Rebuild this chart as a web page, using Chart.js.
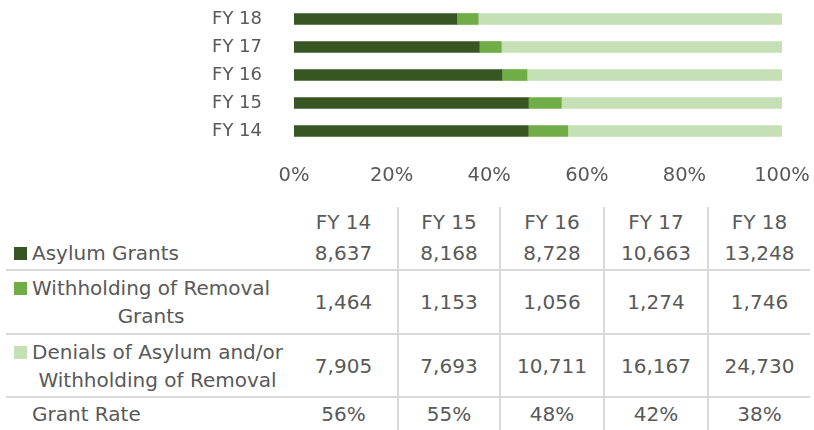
<!DOCTYPE html>
<html>
<head>
<meta charset="utf-8">
<script src="https://cdn.jsdelivr.net/npm/chart.js@4"></script>
<style>
  html, body { margin: 0; padding: 0; background: #fff; }
  body { width: 814px; height: 430px; position: relative; overflow: hidden;
         font-family: "DejaVu Sans", sans-serif; color: #595959; }
  #chart-wrap { position: absolute; left: 0; top: 0; width: 814px; height: 195px; }
  #summary-table { position: absolute; left: 6px; top: 207px; width: 804px;
                   border-collapse: collapse; table-layout: fixed; font-size: 20px; }
  #summary-table td { padding: 0; text-align: center; vertical-align: middle; line-height: 28px; }
  #summary-table td.sep { border-left: 2px solid #d9d9d9; }
  #summary-table tr.line td { border-bottom: 2px solid #d9d9d9; }
  .lab { display: flex; align-items: flex-start; padding-left: 8px; text-align: center; }
  .sq { width: 13px; height: 13px; margin-top: 8px; margin-right: 5px; flex: none; }
  .nosq { width: 13px; margin-right: 5px; flex: none; }
</style>
</head>
<body>
<div id="chart-wrap"><canvas id="bar-chart"></canvas></div>
<table id="summary-table"></table>
<script>
const years = ['FY 14', 'FY 15', 'FY 16', 'FY 17', 'FY 18'];
const asylumGrants = [8637, 8168, 8728, 10663, 13248];
const withholdingGrants = [1464, 1153, 1056, 1274, 1746];
const denials = [7905, 7693, 10711, 16167, 24730];
const grantRate = [56, 55, 48, 42, 38];
const xTicks = [0, 20, 40, 60, 80, 100];

const colors = ['#375623', '#70AD47', '#C5E0B4'];
const seriesNames = [['Asylum Grants'], ['Withholding of Removal', 'Grants'],
  ['Denials of Asylum and/or', 'Withholding of Removal']];
const series = [asylumGrants, withholdingGrants, denials];

// share of each year's total
const totals = years.map((_, i) => asylumGrants[i] + withholdingGrants[i] + denials[i]);
const pct = arr => arr.map((v, i) => v / totals[i] * 100);

new Chart(document.getElementById('bar-chart'), {
  type: 'bar',
  data: {
    labels: years,
    datasets: series.map((s, k) => ({
      label: seriesNames[k].join(' '),
      data: pct(s),
      backgroundColor: colors[k],
      barThickness: 11
    }))
  },
  options: {
    indexAxis: 'y',
    responsive: true,
    maintainAspectRatio: false,
    animation: false,
    layout: { padding: { top: 5, right: 32, left: 0, bottom: 0 } },
    plugins: { legend: { display: false }, tooltip: { enabled: false } },
    scales: {
      x: {
        stacked: true, min: 0, max: 100,
        afterBuildTicks: s => { s.ticks = xTicks.map(v => ({ value: v })); },
        afterFit: s => { s.height = 50; },
        grid: { display: false, drawTicks: true, tickLength: 19 },
        border: { display: false },
        ticks: { padding: 0, color: '#595959', font: { family: 'DejaVu Sans', size: 19.5 },
                 callback: v => v + '%' }
      },
      y: {
        stacked: true, reverse: true,
        afterFit: s => { s.width = 294; s.paddingTop = 0; s.paddingBottom = 0; },
        grid: { display: false, drawTicks: true, tickLength: 32 },
        border: { display: false },
        ticks: { padding: 0, autoSkip: false, color: '#595959', font: { family: 'DejaVu Sans', size: 18 } }
      }
    }
  }
});

//Table content
const fmt = n => n.toLocaleString('en-US');
const widths = [284, 108, 102, 104, 104, 102];
let html = '<colgroup>' + widths.map(w => '<col style="width:' + w + 'px">').join('') + '</colgroup>';
const cells = vals => vals.map((v, i) => '<td' + (i > 0 ? ' class="sep"' : '') + '>' + v + '</td>').join('');
html += '<tr style="height:30px"><td></td>' + cells(years) + '</tr>';
const rowHeights = [33, 64, 63];
series.forEach((s, k) => {
  html += '<tr class="line" style="height:' + rowHeights[k] + 'px"><td><div class="lab">' +
    '<span class="sq" style="background:' + colors[k] + '"></span><span>' +
    seriesNames[k].join('<br>') + '</span></div></td>' + cells(s.map(fmt)) + '</tr>';
});
html += '<tr style="height:33px"><td><div class="lab"><span class="nosq"></span><span>Grant Rate</span></div></td>' +
  cells(grantRate.map(v => v + '%')) + '</tr>';
document.getElementById('summary-table').innerHTML = html;
</script>
</body>
</html>
